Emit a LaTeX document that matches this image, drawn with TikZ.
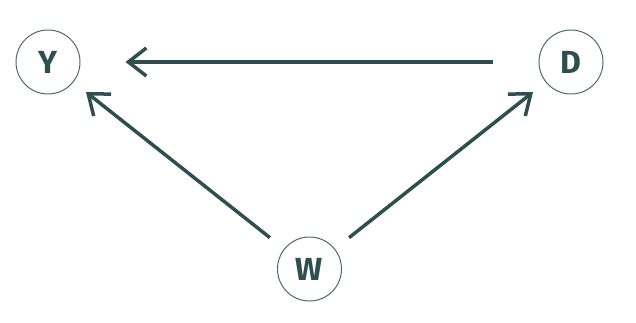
\documentclass[tikz,border=0pt]{standalone}
\usepackage{fontspec}
\setsansfont{Fira Sans}
\usetikzlibrary{arrows.meta}
\definecolor{slate}{HTML}{2F4F4F}

\begin{document}
\begin{tikzpicture}[
        x=1pt,
        y=1pt,
        var/.style={
            circle,
            draw=slate!85,
            line width=1pt,
            minimum size=64pt,
            inner sep=0pt,
            text=slate,
            font=\sffamily\bfseries\fontsize{32}{32}\selectfont
        },
        causal/.style={
            -{Straight Barb[length=18pt,width=28pt]},
            line width=3.5pt,
            slate
        }
    ]

    \useasboundingbox (0,0) rectangle (636,-323);

    % ---------------------------------------------------------
    % Variables
    % ---------------------------------------------------------
    \node[var] (y) at (48,-62) {Y};
    \node[var] (d) at (571,-62) {D};
    \node[var] (w) at (309.5,-269) {W};

    % ---------------------------------------------------------
    % Causal arrows
    % ---------------------------------------------------------
    \draw[causal, shorten <=46pt, shorten >=45pt] (d) -- (y);
    \draw[causal, shorten <=18pt, shorten >=16pt] (w) -- (y);
    \draw[causal, shorten <=18pt, shorten >=16pt] (w) -- (d);

\end{tikzpicture}
\end{document}
